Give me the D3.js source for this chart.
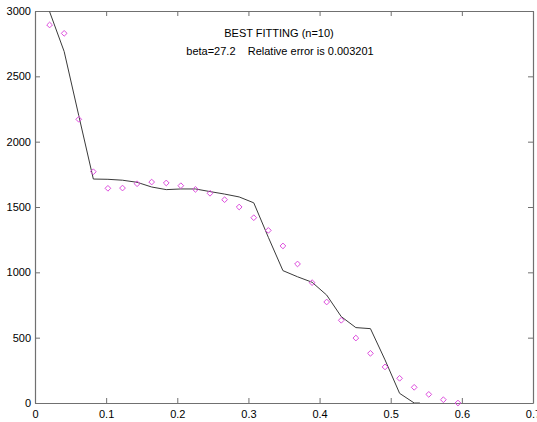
<!DOCTYPE html>
<html>
<head>
<meta charset="utf-8">
<script src="https://cdn.jsdelivr.net/npm/d3@7"></script>
<style>
  body { margin: 0; background: #fff; }
  svg { display: block; font-family: "Liberation Sans", Arial, sans-serif; }
  .axis text { font-size: 11px; fill: #000; }
  .axis line, .axis path { stroke: #707070; }
</style>
</head>
<body>
<script>
"use strict";

// measured points (diamonds)
var xs = [0.0205, 0.041, 0.0615, 0.082, 0.1025, 0.123, 0.1435, 0.164, 0.1845, 0.205,
          0.2255, 0.246, 0.2665, 0.287, 0.3075, 0.328, 0.3485, 0.369, 0.3895, 0.41,
          0.4305, 0.451, 0.4715, 0.492, 0.5125, 0.533, 0.5535, 0.574, 0.5945];
var measured = [2893, 2829, 2171, 1770, 1643, 1645, 1678, 1691, 1684, 1663,
                1635, 1605, 1556, 1500, 1418, 1321, 1202, 1064, 921, 773,
                633, 497, 380, 276, 189, 120, 66, 25, 0];

// best fit curve (line), same x positions, stops at 0
var fitX = [0.0205, 0.041, 0.0615, 0.082, 0.1025, 0.123, 0.1435, 0.164, 0.1845, 0.205,
            0.2255, 0.246, 0.2665, 0.287, 0.3075, 0.328, 0.3485, 0.369, 0.3895, 0.41,
            0.4305, 0.451, 0.4715, 0.492, 0.5125, 0.533, 0.541];
var fitted = [2995, 2690, 2200, 1714, 1712, 1705, 1689, 1653, 1633, 1638,
              1638, 1618, 1599, 1577, 1532, 1268, 1013, 966, 924, 826,
              661, 577, 569, 330, 74, 0, 0];

var xTicks = [0, 0.1, 0.2, 0.3, 0.4, 0.5, 0.6, 0.7];
var yTicks = [0, 500, 1000, 1500, 2000, 2500, 3000];

var titleLine = "BEST FITTING (n=10)";
var subLine = "beta=27.2    Relative error is 0.003201";

var width = 537;
var height = 422;
var margin = { top: 11, left: 35, right: 4, bottom: 19 };

var svg = d3.select("body").append("svg")
    .attr("width", width)
    .attr("height", height);

var xScale = d3.scaleLinear()
    .domain([0, 0.7])
    .range([margin.left, width - margin.right]);

var yScale = d3.scaleLinear()
    .domain([0, 3000])
    .range([height - margin.bottom, margin.top]);

svg.append("defs").append("clipPath")
    .attr("id", "plotClip")
  .append("rect")
    .attr("x", margin.left)
    .attr("y", margin.top)
    .attr("width", width - margin.left - margin.right)
    .attr("height", height - margin.top - margin.bottom);

// axes, ticks pointing inwards on all four sides
svg.append("g")
    .attr("class", "axis")
    .attr("transform", "translate(0," + (height - margin.bottom) + ")")
    .call(d3.axisBottom(xScale).tickValues(xTicks).tickSize(-5).tickSizeOuter(0).tickPadding(7)
        .tickFormat(function(d) { return d === 0 ? "0" : d3.format(".1f")(d); }));

svg.append("g")
    .attr("class", "axis")
    .attr("transform", "translate(0," + margin.top + ")")
    .call(d3.axisTop(xScale).tickValues(xTicks).tickSize(-5).tickSizeOuter(0).tickFormat(""));

svg.append("g")
    .attr("class", "axis")
    .attr("transform", "translate(" + margin.left + ",0)")
    .call(d3.axisLeft(yScale).tickValues(yTicks).tickSize(-5).tickSizeOuter(0).tickPadding(4)
        .tickFormat(d3.format("d")));

svg.append("g")
    .attr("class", "axis")
    .attr("transform", "translate(" + (width - margin.right) + ",0)")
    .call(d3.axisRight(yScale).tickValues(yTicks).tickSize(-5).tickSizeOuter(0).tickFormat(""));

svg.selectAll(".axis .domain").attr("stroke-width", 1.2);

// fitted line
var line = d3.line()
    .x(function(d, i) { return xScale(fitX[i]); })
    .y(function(d) { return yScale(d); });

svg.append("path")
    .datum(fitted)
    .attr("clip-path", "url(#plotClip)")
    .attr("fill", "none")
    .attr("stroke", "#3a3a3a")
    .attr("stroke-width", 1)
    .attr("d", line);

// measured diamonds
var diamond = d3.symbol().type(d3.symbolDiamond2).size(21);

svg.append("g")
    .selectAll("path")
    .data(measured)
    .enter()
    .append("path")
    .attr("d", diamond)
    .attr("transform", function(d, i) { return "translate(" + xScale(xs[i]) + "," + yScale(d) + ")"; })
    .attr("fill", "none")
    .attr("stroke", "#dd4ddd")
    .attr("stroke-width", 1);

// title text
svg.append("text")
    .attr("x", 279)
    .attr("y", 37)
    .attr("text-anchor", "middle")
    .style("font-size", "11px")
    .text(titleLine);

svg.append("text")
    .attr("x", 280)
    .attr("y", 54.5)
    .attr("text-anchor", "middle")
    .style("font-size", "11px")
    .style("white-space", "pre")
    .text(subLine);
</script>
</body>
</html>
